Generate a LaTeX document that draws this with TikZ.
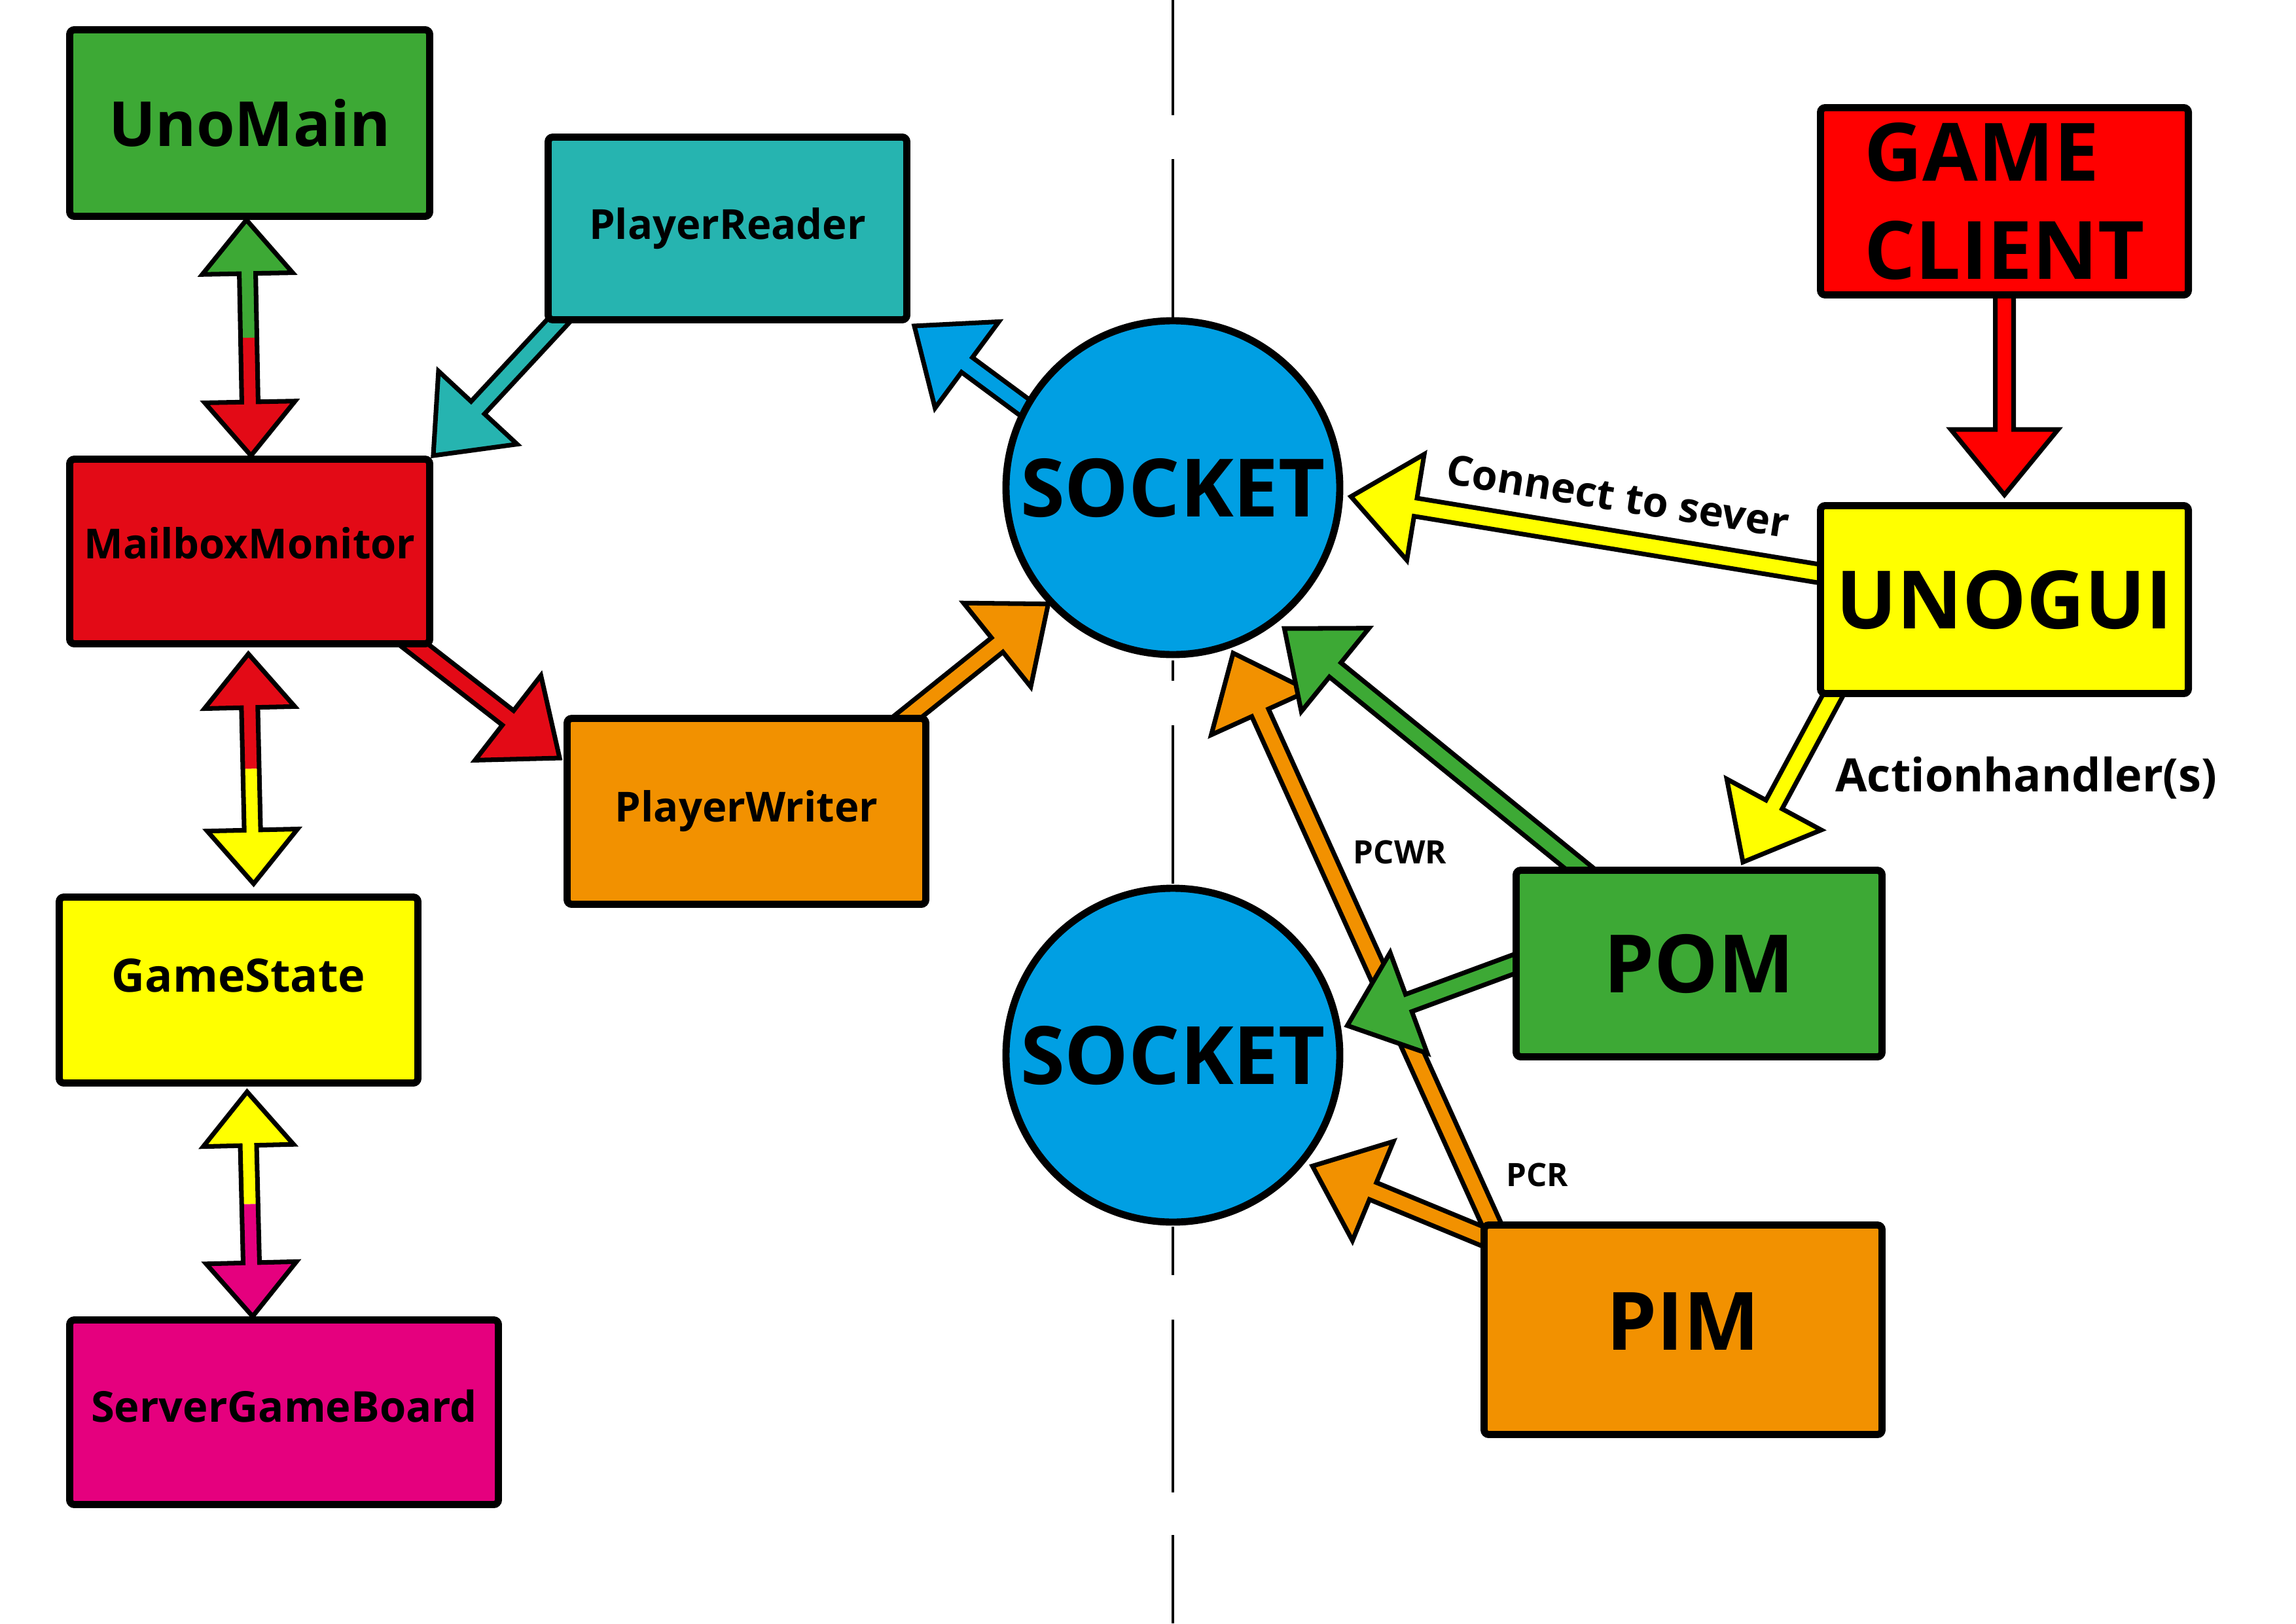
\documentclass[tikz,border=0pt]{standalone}
\usepackage{fontspec}
\setmainfont{Open Sans}
\usetikzlibrary{calc,backgrounds}

\definecolor{unogreen}{HTML}{3DA935}
\definecolor{readerteal}{HTML}{26B4B0}
\definecolor{mailred}{HTML}{E30A16}
\definecolor{writerorange}{HTML}{F29100}
\definecolor{stateyellow}{HTML}{FFFF00}
\definecolor{boardmagenta}{HTML}{E5007E}
\definecolor{clientred}{HTML}{FF0000}
\definecolor{sockblue}{HTML}{009FE3}

\newcommand{\blockarrow}[3]{%
  \draw[arrowline,fill=#1] ($(#2)!\aw!90:(#3)$)
    -- ($(#3)!\ahl!(#2)!\aw!90:(#3)$)
    -- ($(#3)!\ahl!(#2)!\ahw!90:(#3)$)
    -- (#3)
    -- ($(#3)!\ahl!(#2)!\ahw!-90:(#3)$)
    -- ($(#3)!\ahl!(#2)!\aw!-90:(#3)$)
    -- ($(#2)!\aw!-90:(#3)$) -- cycle;}

\newcommand{\twowayarrow}[4]{%
  \path ($(#3)!0.5!(#4)$) coordinate (tw-m)
    ($(#3)!\ahl!(#4)$) coordinate (tw-a)
    ($(#4)!\ahl!(#3)$) coordinate (tw-b);
  \fill[#1] (#3) -- ($(tw-a)!\ahw!90:(#3)$) -- ($(tw-a)!\aw!90:(#3)$)
    -- ($(tw-m)!\aw!90:(#3)$) -- ($(tw-m)!\aw!-90:(#3)$)
    -- ($(tw-a)!\aw!-90:(#3)$) -- ($(tw-a)!\ahw!-90:(#3)$) -- cycle;
  \fill[#2] (#4) -- ($(tw-b)!\ahw!90:(#4)$) -- ($(tw-b)!\aw!90:(#4)$)
    -- ($(tw-m)!\aw!90:(#4)$) -- ($(tw-m)!\aw!-90:(#4)$)
    -- ($(tw-b)!\aw!-90:(#4)$) -- ($(tw-b)!\ahw!-90:(#4)$) -- cycle;
  \draw[arrowline] (#3) -- ($(tw-a)!\ahw!90:(#3)$) -- ($(tw-a)!\aw!90:(#3)$)
    -- ($(tw-b)!\aw!-90:(#4)$) -- ($(tw-b)!\ahw!-90:(#4)$) -- (#4)
    -- ($(tw-b)!\ahw!90:(#4)$) -- ($(tw-b)!\aw!90:(#4)$)
    -- ($(tw-a)!\aw!-90:(#3)$) -- ($(tw-a)!\ahw!-90:(#3)$) -- cycle;}

\begin{document}
\begin{tikzpicture}[
  box/.style={draw, line width=3.1pt, rounded corners=2pt, inner sep=0pt},
  sock/.style={draw, circle, line width=3.1pt, fill=sockblue, minimum size=5.1cm, inner sep=0pt, font=\fontsize{35}{42}\selectfont\bfseries},
  arrowline/.style={draw=black, line width=2pt},
  bigtext/.style={font=\fontsize{35}{42.7}\selectfont\bfseries},
  midtext/.style={font=\fontsize{18}{22}\selectfont\bfseries},
  smalltext/.style={font=\fontsize{14}{17}\selectfont\bfseries}]
\useasboundingbox (0,0) rectangle (35.08,-24.80);

\node[box, fill=unogreen, minimum width=5.50cm, minimum height=2.85cm, font=\fontsize{27}{32}\selectfont\bfseries] (unomain) at (3.815,-1.88) {UnoMain};
\node[box, fill=readerteal, minimum width=5.48cm, minimum height=2.79cm, midtext] (reader) at (11.115,-3.49) {PlayerReader};
\node[box, fill=mailred, minimum width=5.50cm, minimum height=2.82cm, midtext] (mailbox) at (3.815,-8.425) {\raisebox{0.13cm}[\height][\depth]{MailboxMonitor}};
\node[box, fill=writerorange, minimum width=5.48cm, minimum height=2.84cm, midtext] (writer) at (11.405,-12.395) {PlayerWriter};
\node[box, fill=stateyellow, minimum width=5.48cm, minimum height=2.84cm, font=\fontsize{20}{24}\selectfont\bfseries] (gamestate) at (3.645,-15.125) {\raisebox{0.22cm}[\height][\depth]{GameState}};
\node[box, fill=boardmagenta, minimum width=6.55cm, minimum height=2.82cm, font=\fontsize{18.5}{22}\selectfont\bfseries] (board) at (4.34,-21.575) {\raisebox{0.09cm}[\height][\depth]{ServerGameBoard}};
\node[box, fill=clientred, minimum width=5.62cm, minimum height=2.86cm, bigtext, align=left] (client) at (30.625,-3.075) {GAME\\CLIENT};
\node[box, fill=stateyellow, minimum width=5.62cm, minimum height=2.87cm, bigtext] (unogui) at (30.625,-9.16) {UNOGUI};
\node[box, fill=unogreen, minimum width=5.59cm, minimum height=2.85cm, bigtext] (pom) at (25.96,-14.72) {POM};
\node[box, fill=writerorange, minimum width=6.08cm, minimum height=3.20cm, bigtext] (pim) at (25.715,-20.315) {\raisebox{0.13cm}[\height][\depth]{PIM}};
\node[sock] (sock1) at (17.92,-7.45) {SOCKET};
\node[sock] (sock2) at (17.92,-16.12) {SOCKET};

\node[midtext, rotate=-9] (connect) at (24.72,-7.58) {Connect to sever};
\node[font=\fontsize{20}{24}\selectfont\bfseries, anchor=west] (handler) at (27.92,-11.88) {Actionhandler(s)};
\node[smalltext] (pcwr) at (21.39,-13.02) {PCWR};
\node[smalltext] (pcr) at (23.49,-17.95) {PCR};

\coordinate (unomain-t) at ([xshift=-0.05cm]unomain.south);
\coordinate (mailbox-t) at ([xshift=0.02cm]mailbox.north);
\coordinate (mailbox-b) at ([shift={(-0.02,-0.10)}]mailbox.south);
\coordinate (gamestate-t) at ([shift={(0.23,0.15)}]gamestate.north);
\coordinate (gamestate-b) at ([shift={(0.13,-0.08)}]gamestate.south);
\coordinate (board-t) at ([xshift=-0.48cm]board.north);
\coordinate (reader-o) at ([shift={(0.39,0.23)}]reader.south west);
\coordinate (reader-i) at ([shift={(0.06,-0.04)}]reader.south east);
\coordinate (sock1-o1) at ([yshift=-0.45cm]sock1.center);
\coordinate (mailbox-o) at ([shift={(-0.50,0.20)}]mailbox.south east);
\coordinate (writer-i) at ([shift={(-0.06,-0.66)}]writer.north west);
\coordinate (writer-o) at ([shift={(-0.47,-0.14)}]writer.north east);
\coordinate (unogui-o1) at ([shift={(0.38,0.34)}]unogui.west);
\coordinate (sock1-i1) at ([xshift=0.12cm]sock1.-3);
\coordinate (client-o) at ([yshift=0.30cm]client.south);
\coordinate (unogui-i) at ([yshift=0.11cm]unogui.north);
\coordinate (unogui-o2) at ([shift={(0.385,0.29)}]unogui.south west);
\coordinate (pom-i) at ([shift={(0.67,0.07)}]pom.north);
\coordinate (pom-o1) at ([shift={(1.37,-0.31)}]pom.north west);
\coordinate (sock1-i2) at ([shift={(0.10,-0.10)}]sock1.-52);
\coordinate (pom-o2) at ([shift={(0.56,0.19)}]pom.west);
\coordinate (sock2-i1) at ([xshift=0.10cm]sock2.10);
\coordinate (pim-o1) at ([shift={(0.34,-0.42)}]pim.north west);
\coordinate (sock1-i3) at ([shift={(0.03,-0.08)}]sock1.-70);
\coordinate (pim-o2) at ([shift={(0.45,-0.40)}]pim.north west);
\coordinate (sock2-i2) at ([shift={(0.08,-0.09)}]sock2.-38);

\begin{scope}[on background layer]
\foreach \ya/\yb in {0/1.76, 2.43/4.86, 10.09/10.40, 11.08/13.50, 18.74/19.48, 20.16/22.80, 23.45/24.80}
  \draw[line width=1.3pt] (17.92,-\ya) -- (17.92,-\yb);

\def\aw{0.125cm}\def\ahw{0.69cm}\def\ahl{0.82cm}
\twowayarrow{unogreen}{mailred}{unomain-t}{mailbox-t}
\twowayarrow{mailred}{stateyellow}{mailbox-b}{gamestate-t}
\twowayarrow{stateyellow}{boardmagenta}{gamestate-b}{board-t}

\def\aw{0.14cm}\def\ahw{0.82cm}\def\ahl{1.0cm}
\blockarrow{readerteal}{reader-o}{mailbox.north east}
\blockarrow{sockblue}{sock1-o1}{reader-i}
\blockarrow{mailred}{mailbox-o}{writer-i}
\blockarrow{writerorange}{writer-o}{sock1.223}
\blockarrow{stateyellow}{unogui-o1}{sock1-i1}
\blockarrow{clientred}{client-o}{unogui-i}
\blockarrow{stateyellow}{unogui-o2}{pom-i}
\blockarrow{writerorange}{pim-o1}{sock1-i3}
\blockarrow{writerorange}{pim-o2}{sock2-i2}
\blockarrow{unogreen}{pom-o1}{sock1-i2}
\blockarrow{unogreen}{pom-o2}{sock2-i1}
\end{scope}
\end{tikzpicture}
\end{document}
